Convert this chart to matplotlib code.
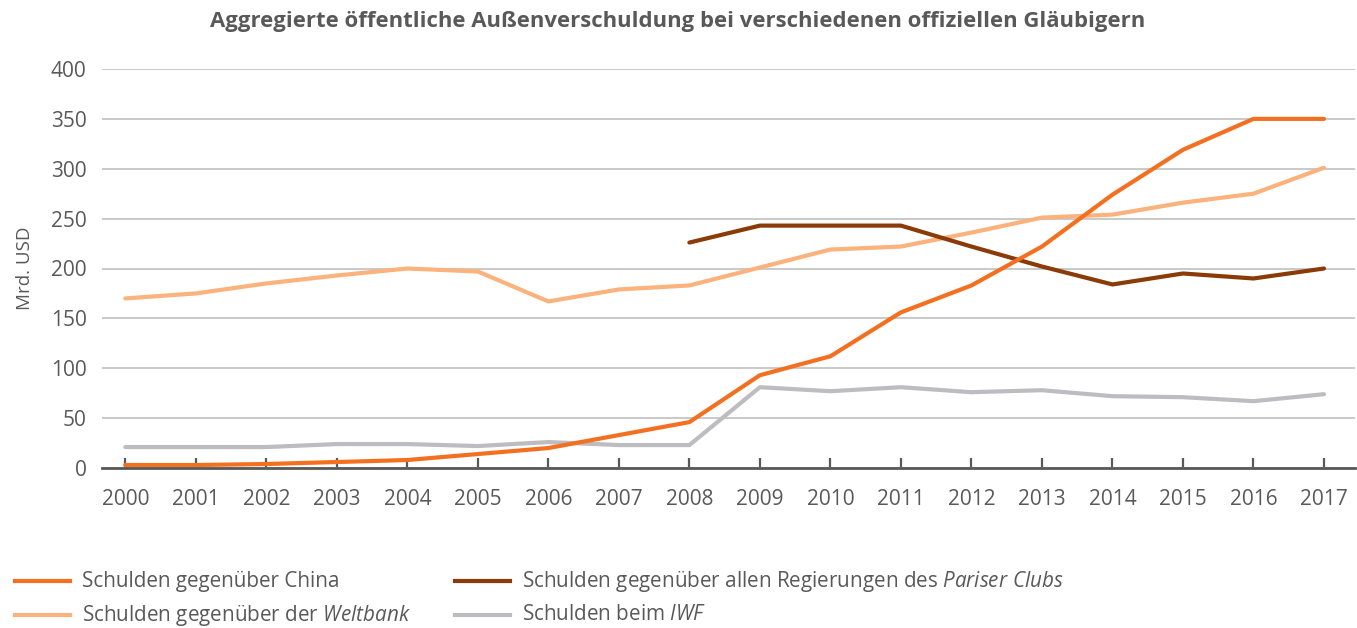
import matplotlib
matplotlib.use("Agg")
import matplotlib.pyplot as plt
from matplotlib.lines import Line2D

plt.rcParams['font.family'] = ['Open Sans', 'DejaVu Sans']
plt.rcParams['mathtext.fontset'] = 'custom'
plt.rcParams['mathtext.rm'] = 'Open Sans'
plt.rcParams['mathtext.it'] = 'Open Sans:italic'

years = list(range(2000, 2018))
china = [3, 3, 4, 6, 8, 14, 20, 33, 46, 93, 112, 156, 183, 222, 274, 319, 350, 350]
weltbank = [170, 175, 185, 193, 200, 197, 167, 179, 183, 201, 219, 222, 236, 251, 254, 266, 275, 301]
paris_years = list(range(2008, 2018))
paris = [226, 243, 243, 243, 222, 202, 184, 195, 190, 200]
iwf = [21, 21, 21, 24, 24, 22, 26, 23, 23, 81, 77, 81, 76, 78, 72, 71, 67, 74]

labels = ["Schulden gegenüber China",
          "Schulden gegenüber allen Regierungen des $\\mathit{Pariser\\ Clubs}$",
          "Schulden gegenüber der $\\mathit{Weltbank}$",
          "Schulden beim $\\mathit{IWF}$"]

c_china = '#F37021'
c_welt = '#FBB27C'
c_paris = '#8A3B08'
c_iwf = '#BDBDC1'
txt = '#595959'

W, H = 1357, 628
fig = plt.figure(figsize=(W/100, H/100), dpi=100)
ax = fig.add_axes([102/W, 1-468/H, (1355-102)/W, (468-69)/H])

lw = 3.0
ax.plot(years, iwf, color=c_iwf, lw=lw, solid_capstyle='round', solid_joinstyle='round', zorder=3)
ax.plot(years, weltbank, color=c_welt, lw=lw, solid_capstyle='round', solid_joinstyle='round', zorder=3)
ax.plot(paris_years, paris, color=c_paris, lw=lw, solid_capstyle='round', solid_joinstyle='round', zorder=4)
ax.plot(years, china, color=c_china, lw=lw, solid_capstyle='round', solid_joinstyle='round', zorder=5)

ax.set_ylim(0, 400)
ax.set_xlim(1999.67, 2017.44)
ax.set_yticks(range(0, 401, 50))
ax.set_xticks(years)
ax.set_xticklabels([str(y) for y in years])
ax.grid(axis='y', color='#C0C0C0', lw=1.2, zorder=0)
ax.set_axisbelow(True)
for s in ['top', 'right', 'left']:
    ax.spines[s].set_visible(False)
ax.spines['bottom'].set_color(txt)
ax.spines['bottom'].set_linewidth(2.0)
ax.spines['bottom'].set_zorder(6)
ax.tick_params(axis='x', direction='in', length=7, width=1.6, color=txt,
               labelsize=15, labelcolor=txt, pad=15)
ax.tick_params(axis='y', length=0, labelsize=15, labelcolor=txt, pad=11)
ax.set_ylabel('Mrd. USD', fontsize=13.5, color=txt, labelpad=12)

fig.text(678/W, 1-22/H, 'Aggregierte öffentliche Außenverschuldung bei verschiedenen offiziellen Gläubigern',
         ha='center', va='center', fontsize=15.9, fontweight='bold', color=txt)

colors = [c_china, c_paris, c_welt, c_iwf]
pos = [(15, 581), (455, 581), (15, 615), (455, 615)]
for (x, y), c, lab in zip(pos, colors, labels):
    fig.add_artist(Line2D([x/W, (x+55)/W], [1-y/H, 1-y/H], color=c, lw=3.0, transform=fig.transFigure))
    fig.text((x+67)/W, 1-y/H, lab, ha='left', va='center', fontsize=14.9, color=txt)

fig.savefig('out.png', dpi=100)
